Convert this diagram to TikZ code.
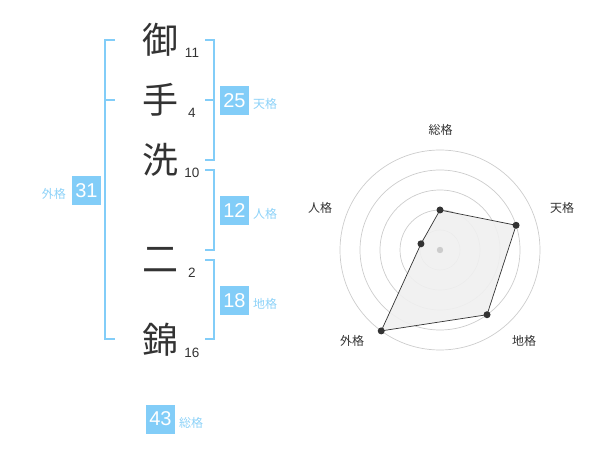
\documentclass[tikz,border=0pt]{standalone}
\usepackage{fontspec}
\setmainfont{Liberation Sans}
\newfontfamily\cjk{Noto Sans CJK JP}
\definecolor{bl}{HTML}{82CDF8}
\definecolor{bltxt}{HTML}{8DD2F8}
\definecolor{ink}{HTML}{333333}
\definecolor{gridc}{HTML}{CCCCCC}
\tikzset{
  kanji/.style={inner sep=0pt, text=ink, font=\cjk\fontsize{36}{36}\selectfont},
  stroke/.style={inner sep=0pt, text=ink, font=\fontsize{13.5}{13.5}\selectfont},
  numbox/.style={fill=bl, text=white, minimum size=29pt, inner sep=0pt, font=\fontsize{20}{20}\selectfont},
  boxlabel/.style={inner sep=0pt, text=bltxt, font=\cjk\fontsize{12}{12}\selectfont},
  brk/.style={draw=bl, line width=2pt},
  ring/.style={draw=gridc, line width=0.7pt},
  axlabel/.style={inner sep=0pt, text=ink, font=\cjk\fontsize{12}{12}\selectfont},
  pt/.style={circle, fill=ink, inner sep=0pt, minimum size=7pt}
}
\begin{document}
\begin{tikzpicture}[x=1pt,y=-1pt]
\useasboundingbox (0,0) rectangle (600,470);
% characters
\node[kanji] (c1) at (160,40) {御};
\node[kanji] (c2) at (160,100) {手};
\node[kanji] (c3) at (160,160) {洗};
\node[kanji] (c4) at (160,260) {二};
\node[kanji] (c5) at (160,340) {錦};
\node[stroke] (s1) at (192,53) {11};
\node[stroke] (s2) at (192,113) {4};
\node[stroke] (s3) at (192,173) {10};
\node[stroke] (s4) at (192,273) {2};
\node[stroke] (s5) at (192,353) {16};
% brackets
\draw[brk] (115,40) -- (105,40) -- (105,339) -- (115,339);
\draw[brk] (105,100) -- (115,100);
\draw[brk] (205,40) -- (214,40) -- (214,160) -- (205,160);
\draw[brk] (205,100) -- (214,100);
\draw[brk] (205,170) -- (214,170) -- (214,250) -- (205,250);
\draw[brk] (205,260) -- (214,260) -- (214,339) -- (205,339);
% boxes
\node[numbox] (ten) at (234.5,100.5) {25};
\node[boxlabel, anchor=west] (tenl) at (253,104) {天格};
\node[numbox] (jin) at (234.5,210.5) {12};
\node[boxlabel, anchor=west] (jinl) at (253,214) {人格};
\node[numbox] (chi) at (234.5,300.5) {18};
\node[boxlabel, anchor=west] (chil) at (253,304) {地格};
\node[numbox] (gai) at (86.5,190.5) {31};
\node[boxlabel, anchor=east] (gail) at (66,194) {外格};
\node[numbox] (sou) at (160.5,419) {43};
\node[boxlabel, anchor=west] (soul) at (179,422.5) {総格};
% radar
\coordinate (o) at (440,250);
\foreach \r in {20,40,60,80,100} \draw[ring] (o) circle (\r);
\fill[gridc] (o) circle (3.2);
\coordinate (pS) at ({440+40*cos(90)},{250-40*sin(90)});
\coordinate (pT) at ({440+80*cos(18)},{250-80*sin(18)});
\coordinate (pC) at ({440+80*cos(-54)},{250-80*sin(-54)});
\coordinate (pG) at ({440+100*cos(-126)},{250-100*sin(-126)});
\coordinate (pJ) at ({440+20*cos(162)},{250-20*sin(162)});
\filldraw[fill=black!6, fill opacity=0.9, draw=ink, line width=0.7pt] (pS) -- (pT) -- (pC) -- (pG) -- (pJ) -- cycle;
\fill[gridc] (o) circle (3.2);
\foreach \p in {pS,pT,pC,pG,pJ} \node[pt] at (\p) {};
\node[axlabel] (ls) at (440.5,130) {総格};
\node[axlabel] (lt) at (562,208) {天格};
\node[axlabel] (lc) at (524,341) {地格};
\node[axlabel] (lg) at (352,341) {外格};
\node[axlabel] (lj) at (320,208) {人格};
\end{tikzpicture}
\end{document}
